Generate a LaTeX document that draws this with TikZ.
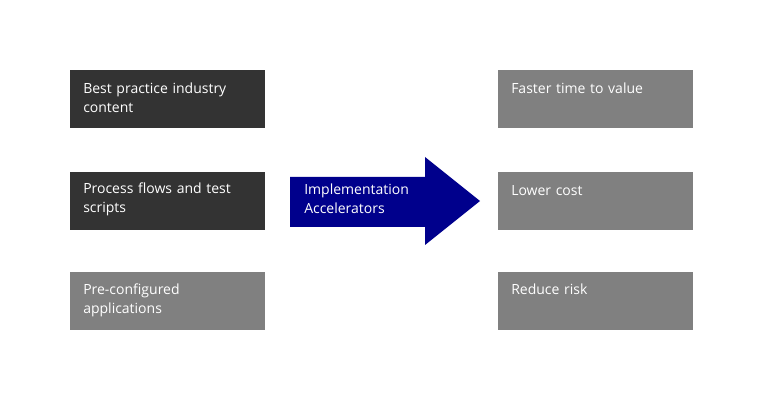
\documentclass[tikz,border=0pt]{standalone}
\usepackage{fontspec}
\setmainfont{Open Sans}
\usetikzlibrary{positioning,arrows,shapes}
\definecolor{darkbox}{HTML}{333333}
\definecolor{greybox}{HTML}{808080}
\definecolor{navyarrow}{HTML}{00008C}
\begin{document}
\begin{tikzpicture}[x=0.75pt, y=-0.75pt,
    box/.style={rectangle, minimum width=146.25pt, minimum height=43.5pt, anchor=north west, inner sep=0pt},
    boxtext/.style={anchor=north west, text=white, font=\fontsize{10.5}{14}\selectfont, align=left, text width=130pt, inner sep=0pt}]
    \useasboundingbox (0,0) rectangle (768,402);
    % Left column
    \node[box, fill=darkbox] (content) at (70,70) {};
    \node[boxtext] (contentlbl) at (83,83) {Best practice industry\\content};
    \node[box, fill=darkbox] (flows) at (70,172) {};
    \node[boxtext] (flowslbl) at (83,183) {Process flows and test\\scripts};
    \node[box, fill=greybox] (apps) at (70,272) {};
    \node[boxtext] (appslbl) at (83,284) {Pre-configured\\applications};
    % Arrow
    \fill[navyarrow] (290,177) -- (425,177) -- (425,157) -- (480,201) -- (425,245) -- (425,227) -- (290,227) -- cycle;
    \node[boxtext] (accel) at (304,184) {Implementation\\Accelerators};
    % Right column
    \node[box, fill=greybox] (value) at (498,70) {};
    \node[boxtext] (valuelbl) at (511,83) {Faster time to value};
    \node[box, fill=greybox] (cost) at (498,172) {};
    \node[boxtext] (costlbl) at (511,185) {Lower cost};
    \node[box, fill=greybox] (risk) at (498,272) {};
    \node[boxtext] (risklbl) at (511,284) {Reduce risk};
\end{tikzpicture}
\end{document}
